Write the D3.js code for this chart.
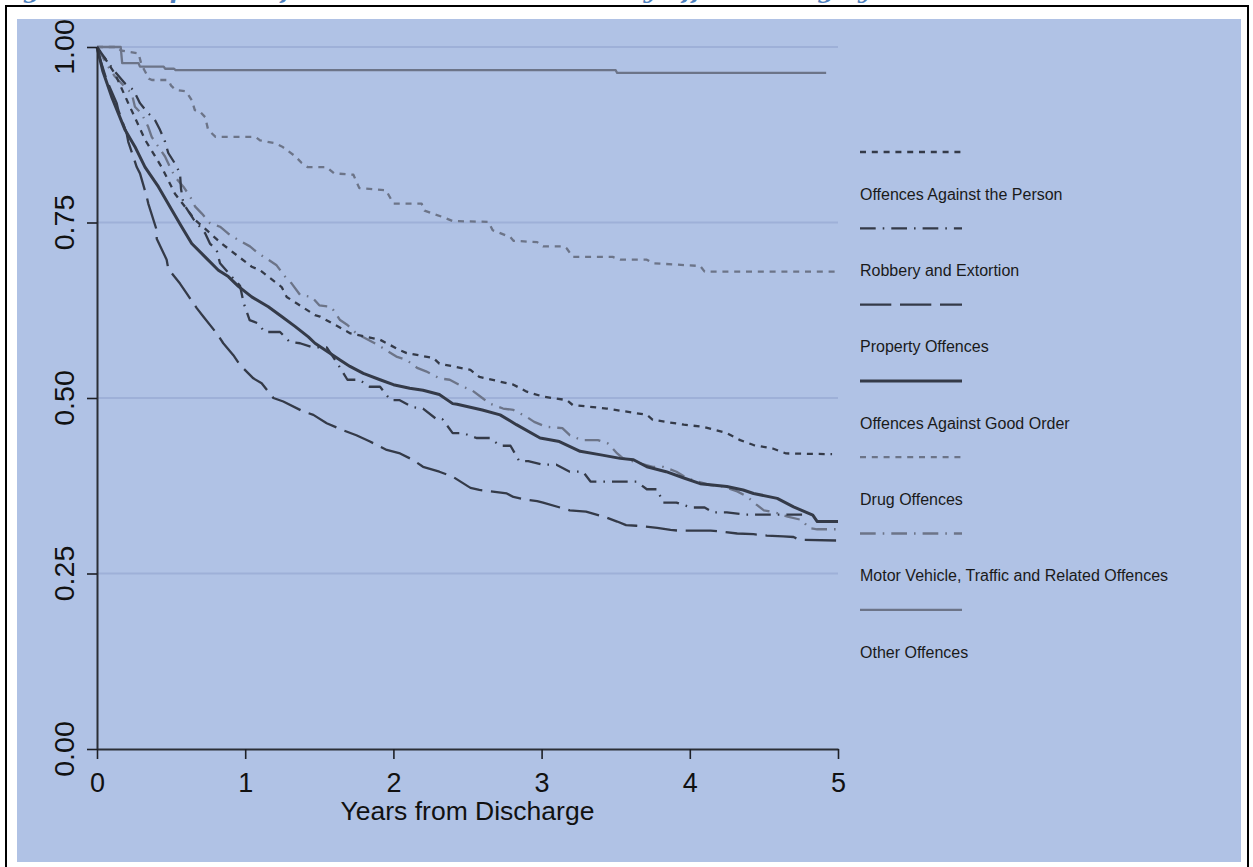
<!DOCTYPE html>
<html>
<head>
<meta charset="utf-8">
<script src="https://cdn.jsdelivr.net/npm/d3@7"></script>
<style>
  html, body { margin: 0; padding: 0; background: #fff; }
  svg { display: block; }
</style>
</head>
<body>
<svg id="chart" width="1253" height="867"></svg>
<script>
// text
const titleText = 'Figure 6: Comparison of Survival to Reincarceration by Offence Category';
const xLabel = 'Years from Discharge';
const xTicks = [0, 1, 2, 3, 4, 5];
const yTicks = [0, 0.25, 0.5, 0.75, 1];
const gridTicks = [0.25, 0.5, 0.75, 1];

const categories = [
  'Offences Against the Person',
  'Robbery and Extortion',
  'Property Offences',
  'Offences Against Good Order',
  'Drug Offences',
  'Motor Vehicle, Traffic and Related Offences',
  'Other Offences'
];

// [years, survival]
const personTrace = [[0,1],[0.05,0.985],[0.121,0.962],[0.211,0.92],[0.324,0.868],[0.436,0.829],[0.526,0.791],[0.661,0.754],[0.841,0.72],[1.044,0.687],[1.1,0.682],[1.246,0.658],[1.28,0.644],[1.471,0.618],[1.505,0.616],[1.71,0.592],[1.91,0.583],[2.045,0.568],[2.09,0.564],[2.27,0.557],[2.31,0.549],[2.52,0.54],[2.58,0.53],[2.81,0.519],[2.9,0.509],[3.01,0.502],[3.17,0.497],[3.21,0.49],[3.44,0.485],[3.71,0.476],[3.75,0.469],[3.96,0.462],[4.09,0.459],[4.25,0.45],[4.34,0.44],[4.43,0.433],[4.56,0.428],[4.65,0.421],[4.96,0.42]];
const robberyTrace = [[0,1],[0.05,0.985],[0.12,0.965],[0.189,0.948],[0.245,0.939],[0.29,0.92],[0.335,0.908],[0.391,0.896],[0.425,0.882],[0.459,0.865],[0.481,0.849],[0.526,0.834],[0.56,0.82],[0.567,0.798],[0.583,0.777],[0.65,0.755],[0.729,0.735],[0.762,0.72],[0.807,0.711],[0.83,0.692],[0.9,0.675],[0.965,0.66],[0.99,0.635],[1.03,0.611],[1.09,0.606],[1.13,0.594],[1.235,0.594],[1.3,0.58],[1.37,0.578],[1.46,0.572],[1.55,0.572],[1.62,0.55],[1.69,0.526],[1.77,0.526],[1.84,0.516],[1.91,0.516],[1.98,0.497],[2.04,0.497],[2.13,0.487],[2.2,0.485],[2.29,0.47],[2.33,0.47],[2.4,0.45],[2.47,0.45],[2.56,0.443],[2.65,0.443],[2.72,0.432],[2.79,0.432],[2.85,0.41],[2.91,0.41],[3.01,0.405],[3.1,0.405],[3.19,0.395],[3.28,0.395],[3.33,0.381],[3.64,0.381],[3.71,0.37],[3.78,0.37],[3.82,0.351],[3.91,0.351],[4.01,0.344],[4.1,0.344],[4.16,0.337],[4.25,0.337],[4.37,0.334],[4.8,0.334]];
const propertyTrace = [[0,1],[0.009,0.991],[0.065,0.953],[0.133,0.92],[0.144,0.91],[0.2,0.877],[0.211,0.865],[0.268,0.829],[0.29,0.82],[0.335,0.787],[0.346,0.777],[0.403,0.739],[0.403,0.727],[0.47,0.697],[0.481,0.684],[0.56,0.663],[0.605,0.649],[0.673,0.628],[0.717,0.616],[0.808,0.592],[0.852,0.578],[0.92,0.561],[0.965,0.547],[1.055,0.528],[1.111,0.521],[1.19,0.5],[1.257,0.495],[1.39,0.481],[1.46,0.476],[1.55,0.464],[1.662,0.454],[1.75,0.447],[1.842,0.438],[1.955,0.426],[2.045,0.421],[2.13,0.412],[2.2,0.402],[2.31,0.395],[2.4,0.388],[2.52,0.372],[2.58,0.369],[2.765,0.364],[2.81,0.359],[2.9,0.355],[2.97,0.353],[3.01,0.351],[3.19,0.34],[3.3,0.338],[3.42,0.331],[3.51,0.324],[3.57,0.319],[3.64,0.318],[3.78,0.315],[3.87,0.312],[3.93,0.311],[4.14,0.311],[4.2,0.31],[4.32,0.307],[4.43,0.306],[4.52,0.304],[4.63,0.303],[4.7,0.302],[4.74,0.298],[4.99,0.297]];
const goodOrderTrace = [[0,1],[0.04,0.965],[0.099,0.929],[0.189,0.882],[0.256,0.858],[0.324,0.829],[0.414,0.801],[0.504,0.768],[0.571,0.744],[0.639,0.72],[0.729,0.701],[0.819,0.682],[0.886,0.673],[0.954,0.659],[1.044,0.644],[1.156,0.63],[1.246,0.616],[1.336,0.602],[1.426,0.587],[1.471,0.578],[1.64,0.554],[1.707,0.545],[1.797,0.535],[1.91,0.526],[2,0.519],[2.11,0.514],[2.2,0.511],[2.31,0.505],[2.4,0.492],[2.43,0.491],[2.6,0.483],[2.72,0.476],[2.83,0.462],[2.99,0.443],[3.12,0.438],[3.26,0.424],[3.4,0.419],[3.53,0.414],[3.62,0.412],[3.71,0.402],[3.84,0.395],[3.96,0.386],[4.07,0.378],[4.25,0.374],[4.36,0.369],[4.43,0.364],[4.59,0.357],[4.7,0.345],[4.83,0.333],[4.86,0.324],[5,0.324]];
const drugTrace = [[0,1],[0.14,1],[0.16,0.995],[0.28,0.991],[0.3,0.975],[0.32,0.967],[0.35,0.955],[0.37,0.953],[0.48,0.953],[0.5,0.945],[0.53,0.939],[0.6,0.937],[0.64,0.924],[0.66,0.91],[0.69,0.909],[0.73,0.9],[0.75,0.882],[0.8,0.872],[1.07,0.872],[1.1,0.867],[1.2,0.863],[1.25,0.858],[1.34,0.844],[1.38,0.835],[1.42,0.829],[1.55,0.829],[1.6,0.82],[1.73,0.818],[1.77,0.799],[1.95,0.796],[2,0.777],[2.19,0.777],[2.21,0.767],[2.26,0.763],[2.33,0.758],[2.4,0.752],[2.64,0.751],[2.67,0.739],[2.79,0.729],[2.81,0.724],[2.97,0.722],[3.01,0.716],[3.15,0.716],[3.17,0.713],[3.21,0.701],[3.48,0.701],[3.53,0.697],[3.71,0.697],[3.75,0.692],[4.07,0.688],[4.1,0.68],[5,0.68]];
const motorTrace = [[0,1],[0.04,0.985],[0.076,0.972],[0.121,0.958],[0.189,0.943],[0.234,0.934],[0.256,0.915],[0.301,0.905],[0.346,0.886],[0.369,0.872],[0.414,0.858],[0.459,0.844],[0.493,0.829],[0.526,0.815],[0.583,0.801],[0.628,0.787],[0.661,0.773],[0.706,0.763],[0.763,0.749],[0.83,0.744],[0.886,0.734],[0.954,0.725],[1.032,0.716],[1.089,0.706],[1.156,0.697],[1.212,0.689],[1.269,0.673],[1.314,0.663],[1.37,0.647],[1.449,0.644],[1.5,0.632],[1.58,0.63],[1.64,0.611],[1.69,0.604],[1.75,0.592],[1.81,0.585],[1.9,0.575],[2.02,0.559],[2.09,0.554],[2.16,0.543],[2.22,0.538],[2.31,0.528],[2.38,0.526],[2.47,0.516],[2.53,0.511],[2.6,0.5],[2.65,0.492],[2.74,0.485],[2.81,0.483],[2.9,0.473],[2.95,0.466],[3.03,0.459],[3.14,0.457],[3.19,0.447],[3.27,0.44],[3.38,0.44],[3.45,0.435],[3.51,0.421],[3.55,0.414],[3.66,0.407],[3.75,0.402],[3.82,0.402],[3.91,0.395],[3.98,0.386],[4.05,0.381],[4.14,0.376],[4.22,0.374],[4.32,0.367],[4.39,0.359],[4.45,0.348],[4.5,0.34],[4.59,0.336],[4.66,0.331],[4.76,0.326],[4.8,0.315],[4.86,0.313],[5,0.313]];
const otherTrace = [[0,1],[0.16,1],[0.17,0.977],[0.28,0.977],[0.29,0.972],[0.45,0.972],[0.46,0.969],[0.52,0.969],[0.53,0.967],[3.5,0.967],[3.51,0.963],[4.92,0.963]];

const seriesData = [personTrace, robberyTrace, propertyTrace, goodOrderTrace, drugTrace, motorTrace, otherTrace];

const dark = '#343a48';
const grey = '#6c7488';
const lineStyles = [
  { color: dark, width: 2.3, dash: '6,5.8' },
  { color: dark, width: 2.3, dash: '15.7,7,1.6,7' },
  { color: dark, width: 2.3, dash: '31.3,8.7' },
  { color: dark, width: 3, dash: null },
  { color: grey, width: 2.3, dash: '6,5.8' },
  { color: grey, width: 2.3, dash: '15.7,7,1.6,7' },
  { color: grey, width: 2.3, dash: null }
];

const svg = d3.select('#chart');

// page frame
svg.append('rect').attr('x', 6).attr('y', 6).attr('width', 1242).attr('height', 900)
  .attr('fill', '#fff').attr('stroke', '#000').attr('stroke-width', 2);
svg.append('rect').attr('x', 17).attr('y', 19).attr('width', 1224).attr('height', 843)
  .attr('fill', '#b0c2e5');

// title, cut off at the top of the picture: only descenders show
svg.append('text')
  .attr('x', 0).attr('y', -2)
  .attr('textLength', 872).attr('lengthAdjust', 'spacing')
  .attr('font-family', 'DejaVu Serif, serif')
  .attr('font-weight', 'bold').attr('font-style', 'italic')
  .attr('font-size', 24).attr('fill', '#4f81bd')
  .text(titleText);

const x = d3.scaleLinear().domain([0, 5]).range([97, 838]);
const y = d3.scaleLinear().domain([0, 1]).range([749, 47]);

// grid
svg.append('g').selectAll('line')
  .data(gridTicks)
  .enter().append('line')
  .attr('x1', x(0)).attr('x2', x(5))
  .attr('y1', d => y(d)).attr('y2', d => y(d))
  .attr('stroke', '#9eb0d8').attr('stroke-width', 2);

// curves
const line = d3.line()
  .x(d => x(d[0]))
  .y(d => y(d[1]));

const order = [6, 4, 5, 0, 1, 2, 3];
order.forEach(i => {
  const st = lineStyles[i];
  svg.append('path')
    .datum(seriesData[i])
    .attr('d', line)
    .attr('fill', 'none')
    .attr('stroke', st.color)
    .attr('stroke-width', st.width)
    .attr('stroke-dasharray', st.dash)
    .attr('stroke-linejoin', 'round');
});

// axes
const yAxis = svg.append('g')
  .attr('transform', `translate(${x(0)},0)`)
  .call(d3.axisLeft(y).tickValues(yTicks).tickSize(10).tickSizeOuter(0).tickFormat(''));
const xAxis = svg.append('g')
  .attr('transform', `translate(0,${y(0)})`)
  .call(d3.axisBottom(x).tickValues(xTicks).tickSize(10).tickSizeOuter(0).tickFormat(d3.format('d')));

[yAxis, xAxis].forEach(a => {
  a.select('.domain').attr('stroke', '#2b2e36').attr('stroke-width', 2);
  a.selectAll('.tick line').attr('stroke', '#1e2026').attr('stroke-width', 1.6);
});

xAxis.selectAll('.tick text')
  .attr('y', 0).attr('dy', null)
  .attr('transform', 'translate(0,43)')
  .attr('font-family', 'Liberation Sans, Arial, sans-serif')
  .attr('font-size', 27).attr('fill', '#111');

svg.append('g').selectAll('text')
  .data(yTicks)
  .enter().append('text')
  .attr('transform', d => `translate(74,${y(d)}) rotate(-90)`)
  .attr('text-anchor', 'middle')
  .attr('font-family', 'Liberation Sans, Arial, sans-serif')
  .attr('font-size', 28.5).attr('fill', '#111')
  .text(d => d3.format('.2f')(d));

svg.append('text')
  .attr('x', (x(0) + x(5)) / 2).attr('y', 820)
  .attr('text-anchor', 'middle')
  .attr('font-family', 'Liberation Sans, Arial, sans-serif')
  .attr('font-size', 26.5).attr('fill', '#111')
  .text(xLabel);

// legend
const legend = svg.append('g').attr('transform', 'translate(860,152)');
categories.forEach((name, i) => {
  const st = lineStyles[i];
  const ly = i * 76.3;
  legend.append('line')
    .attr('x1', 0).attr('x2', 102)
    .attr('y1', ly).attr('y2', ly)
    .attr('stroke', st.color)
    .attr('stroke-width', st.width)
    .attr('stroke-dasharray', st.dash);
  legend.append('text')
    .attr('x', 0).attr('y', ly + 47.7)
    .attr('font-family', 'Liberation Sans, Arial, sans-serif')
    .attr('font-size', 16).attr('fill', '#1a1a1a')
    .text(name);
});
</script>
</body>
</html>
